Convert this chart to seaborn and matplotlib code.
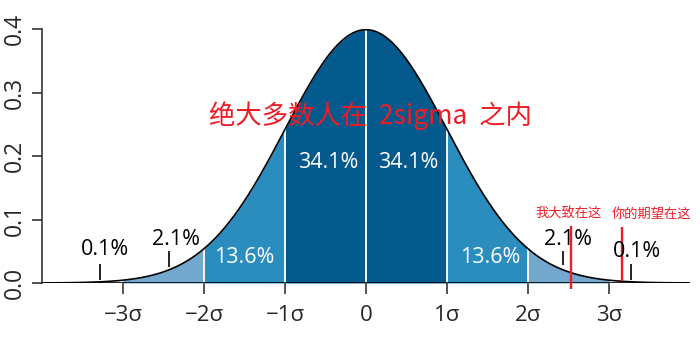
"""正态分布 68-95-99.7 区域图."""

import matplotlib

matplotlib.use("Agg")

import matplotlib.pyplot as plt
import numpy as np
import pandas as pd
import seaborn as sns

# 区间边界与颜色
band_edges = [-3, -2, -1, 0, 1, 2, 3]
band_colors = ["#74a9cf", "#2b8cbe", "#045a8d", "#045a8d", "#2b8cbe", "#74a9cf"]
divider_x = [-2, -1, 0, 1, 2]

# 百分比标签
pct_labels = ["0.1%", "2.1%", "13.6%", "34.1%", "34.1%", "13.6%", "2.1%", "0.1%"]
pct_x = [-3.22, -2.35, -1.5, -0.47, 0.52, 1.53, 2.5, 3.35]
pct_y = [0.052, 0.068, 0.04, 0.19, 0.19, 0.04, 0.068, 0.05]
pct_white = [False, False, True, True, True, True, False, False]

# 指示短线
mark_x = [-3.28, -2.43, 2.43, 3.27]
mark_y0 = [0.004, 0.025, 0.028, 0.005]
mark_y1 = [0.03, 0.05, 0.05, 0.03]

# 红线与注释
red_x = [2.53, 3.16]
red_y0 = [-0.01, 0.003]
red_y1 = [0.09, 0.088]
note_text = ["我大致在这", "你的期望在这"]
note_x = [2.5, 3.52]
note_y = [0.109, 0.109]

tick_pos = [-3, -2, -1, 0, 1, 2, 3]
tick_labels = ["−3σ", "−2σ", "−1σ", "0", "1σ", "2σ", "3σ"]

sns.set_style("ticks")
plt.rcParams["font.family"] = ["Open Sans", "Noto Sans CJK SC", "DejaVu Sans"]

x = np.linspace(-4, 4, 801)
df = pd.DataFrame({"x": x, "density": np.exp(-x**2 / 2) / np.sqrt(2 * np.pi)})

fig = plt.figure(figsize=(7, 3.52), dpi=100)
ax = fig.add_axes([0.06, 0.196, 0.9257, 0.7216])

for lo, hi, col in zip(band_edges[:-1], band_edges[1:], band_colors):
    seg = df[(df["x"] >= lo) & (df["x"] <= hi)]
    ax.fill_between(seg["x"], 0, seg["density"], color=col, linewidth=0)

for xv in divider_x:
    ax.vlines(xv, 0, np.exp(-xv**2 / 2) / np.sqrt(2 * np.pi), color="white", lw=1.3)

sns.lineplot(data=df, x="x", y="density", color="black", lw=1.2, ax=ax)
ax.hlines(0, -4, 4, color="black", lw=1.2)

for lab, px, py, wh in zip(pct_labels, pct_x, pct_y, pct_white):
    ax.text(px, py, lab, ha="center", va="center", fontsize=15.5,
            color="white" if wh else "black")

ax.vlines(mark_x, mark_y0, mark_y1, color="black", lw=1.2)

ax.vlines(red_x, red_y0, red_y1, color="#ee1c25", lw=1.7, clip_on=False)
for t, nx, ny in zip(note_text, note_x, note_y):
    ax.text(nx, ny, t, ha="center", va="center", fontsize=9.5, color="#ee1c25",
            family=["Noto Sans CJK SC", "DejaVu Sans"])

ax.text(0.05, 0.263, "绝大多数人在  2sigma  之内", ha="center", va="center",
        fontsize=19, color="#ee1c25", family=["Noto Sans CJK SC", "DejaVu Sans"])

ax.set_xlim(-4, 4)
ax.set_ylim(0, 0.4)
ax.set_xticks(tick_pos)
ax.set_xticklabels(tick_labels, fontsize=16)
ax.set_yticks([0, 0.1, 0.2, 0.3, 0.4])
ax.set_yticklabels(["0.0", "0.1", "0.2", "0.3", "0.4"], fontsize=16.5,
                   rotation=90, va="center")
ax.tick_params(axis="x", length=8, width=1.1, pad=8)
ax.tick_params(axis="y", length=7, width=1.1, pad=4)
ax.set_xlabel("")
ax.set_ylabel("")
for s in ["top", "right", "bottom"]:
    ax.spines[s].set_visible(False)
ax.spines["left"].set_bounds(0, 0.4)
ax.spines["left"].set_linewidth(1.1)

fig.savefig("out.png", dpi=100)
